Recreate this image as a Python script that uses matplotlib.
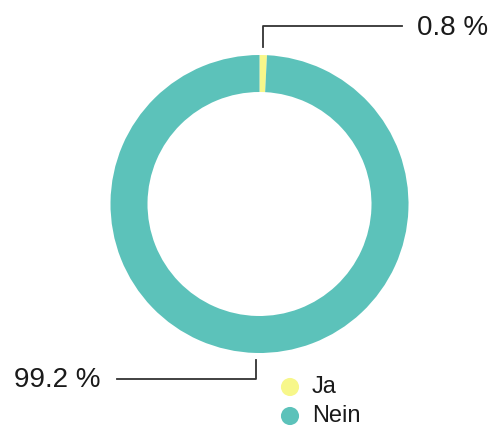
import numpy as np
import matplotlib.pyplot as plt

labels = ['Ja', 'Nein']
values = [0.8, 99.2]
colors = ['#f7f78a', '#5cc2ba']
pct_labels = ['0.8 %', '99.2 %']

W, H = 491, 426
fig = plt.figure(figsize=(W / 100, H / 100), dpi=100)
ax = fig.add_axes([0, 0, 1, 1])
ax.set_xlim(0, W)
ax.set_ylim(0, H)
ax.axis('off')

# mittelpunkt und radius in pixeln
cx, cy = 259.5, H - 204
r = 149
wedges, _ = ax.pie(values, colors=colors, startangle=90, counterclock=False,
                   center=(cx, cy), radius=r,
                   wedgeprops=dict(width=37, linewidth=0))
ax.set_xlim(0, W)
ax.set_ylim(0, H)
ax.set_aspect('equal')

font = 'Liberation Sans'
line_col = '#333333'
txt_col = '#1a1a1a'

# 0.8 % oben rechts
ang = np.deg2rad((wedges[0].theta1 + wedges[0].theta2) / 2)
x0 = cx + (r + 8) * np.cos(ang)
y0 = cy + (r + 8) * np.sin(ang)
ax.plot([x0, x0, 402], [y0, H - 26, H - 26], color=line_col, lw=1.3)
ax.text(417, H - 28, pct_labels[0], fontsize=20, family=font, va='center', ha='left', color=txt_col)

# 99.2 % unten links
ang = np.deg2rad((wedges[1].theta1 + wedges[1].theta2) / 2)
x1 = cx + (r + 7) * np.cos(ang)
y1 = cy + (r + 7) * np.sin(ang)
ax.plot([x1, x1, 117], [y1, H - 379, H - 379], color=line_col, lw=1.3)
ax.text(101, H - 380, pct_labels[1], fontsize=20, family=font, va='center', ha='right', color=txt_col)

# legende
for i, lab in enumerate(labels):
    ly = H - 387 - i * 29
    ax.scatter([290], [ly], s=170, color=colors[i], edgecolors='none')
    ax.text(312, ly, lab, fontsize=17, family=font, va='center', ha='left', color=txt_col)

fig.savefig('out.png', dpi=100)
